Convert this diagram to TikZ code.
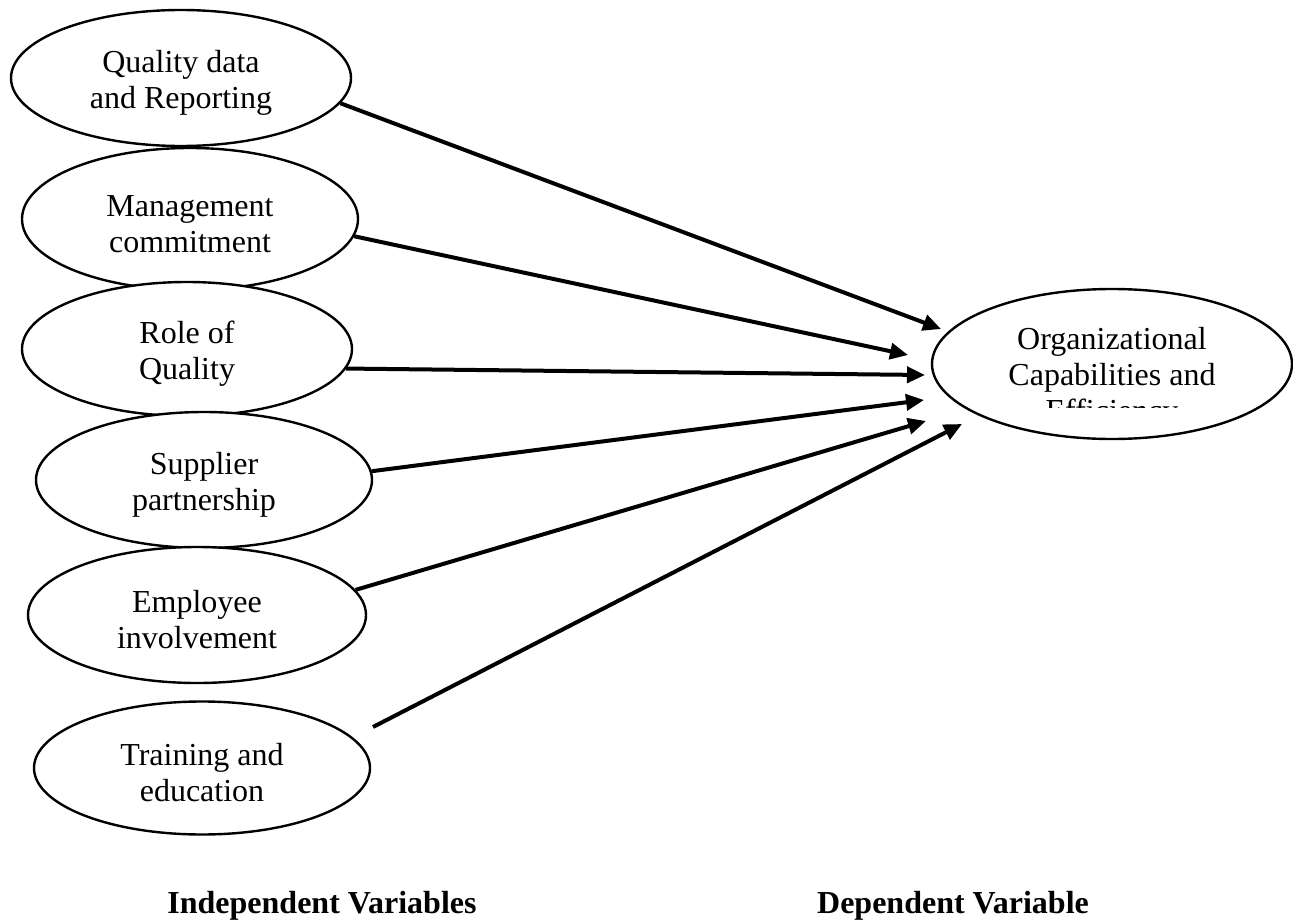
\documentclass[tikz,border=0pt]{standalone}
\usepackage{fontspec}
\setmainfont{Liberation Serif}
\usetikzlibrary{shapes.geometric,arrows.meta}
\newcommand{\upstrut}{\rule{0pt}{31pt}}
\begin{document}
\begin{tikzpicture}[x=1pt,y=-1pt,
  ell/.style={ellipse, draw, line width=2.4pt, fill=white, inner sep=0pt, align=center,
              font=\fontsize{32}{36}\selectfont},
  arr/.style={line width=4pt, -{Triangle[length=18pt,width=16pt]}},
  lbl/.style={font=\bfseries\fontsize{32}{36}\selectfont, anchor=base, inner sep=0pt}]
\useasboundingbox (0,0) rectangle (1293,920);
\fill[white] (0,0) rectangle (1293,920);

\node[ell, minimum width=340pt, minimum height=136pt] (n1) at (181,78) {\upstrut Quality data\\and Reporting};
\node[ell, minimum width=336pt, minimum height=142pt] (n2) at (190,219) {\upstrut Management\\commitment};
\node[ell, minimum width=330pt, minimum height=134pt] (n3) at (187,349) {\upstrut Role of\\Quality};
\node[ell, minimum width=336pt, minimum height=136pt] (n4) at (204,480) {\upstrut Supplier\\partnership};
\node[ell, minimum width=338pt, minimum height=136pt] (n5) at (197,615) {\upstrut Employee\\involvement};
\node[ell, minimum width=336pt, minimum height=133pt] (n6) at (202,768) {\upstrut Training and\\education};

\node[ell, minimum width=360pt, minimum height=150pt] (dv) at (1112,364) {};
\begin{scope}
  \clip (930,290) rectangle (1295,407);
  \node[align=center, font=\fontsize{32}{36}\selectfont, inner sep=0pt] (dvtext) at (1112,378)
    {Organizational\\Capabilities and\\Efficiency};
\end{scope}

\coordinate (t1) at (941,329);
\coordinate (t2) at (908,355);
\coordinate (t3) at (925,375);
\coordinate (t4) at (924,400);
\coordinate (t5) at (926,421);
\coordinate (t6) at (962,424);
\coordinate (s6) at (373,727);

\draw[arr] (n1.-9) -- (t1);
\draw[arr] (n2.-6) -- (t2);
\draw[arr] (n3.-7) -- (t3);
\draw[arr] (n4.3) -- (t4);
\draw[arr] (n5.9) -- (t5);
\draw[arr] (s6) -- (t6);

\node[lbl] (ivl) at (322,913) {Independent Variables};
\node[lbl] (dvl) at (953,913) {Dependent Variable};
\end{tikzpicture}
\end{document}
